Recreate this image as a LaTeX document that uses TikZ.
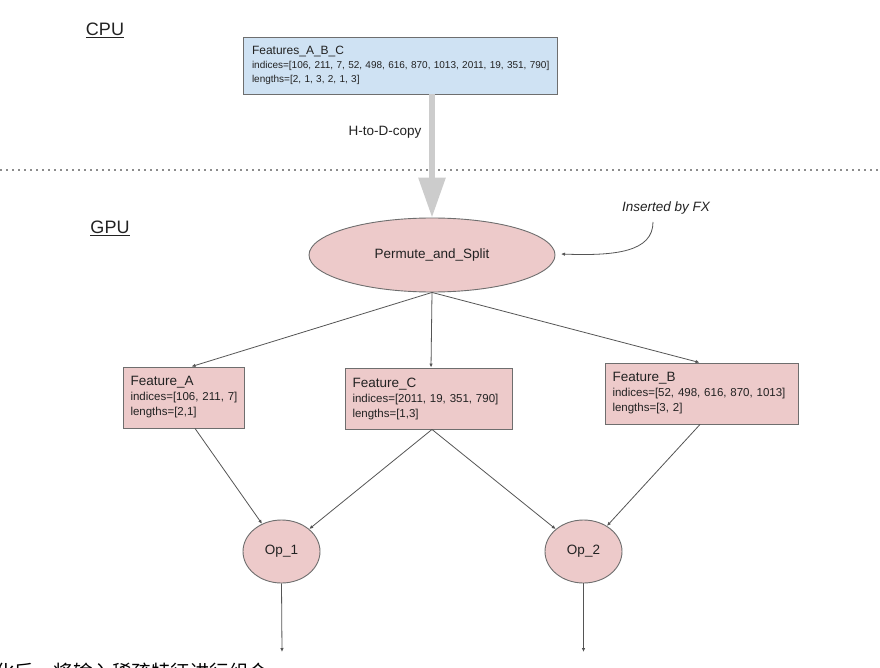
\documentclass[tikz,border=0pt]{standalone}
\usepackage{fontspec}
\setmainfont{Liberation Sans}
\newfontfamily\cjk{Noto Sans CJK SC}
\usetikzlibrary{shapes.geometric,arrows.meta}
\definecolor{cpublue}{HTML}{CFE2F3}
\definecolor{gpupink}{HTML}{EDCACA}
\definecolor{edgegray}{HTML}{6E6E6E}
\definecolor{linegray}{HTML}{555555}
\definecolor{txt}{HTML}{222222}
\tikzset{
  x=1pt, y=-1pt,
  every node/.style={text=txt},
  cpubox/.style={draw=edgegray, line width=0.9pt, fill=cpublue, rectangle, inner xsep=9pt, inner ysep=0pt, align=left, minimum height=57pt, font=\fontsize{10}{14}\selectfont},
  featbox/.style={draw=edgegray, line width=0.9pt, fill=gpupink, rectangle, inner xsep=7.5pt, inner ysep=0pt, align=left, minimum height=61pt, font=\fontsize{11.5}{15}\selectfont},
  opnode/.style={draw=edgegray, line width=0.9pt, fill=gpupink, ellipse, inner sep=0pt, font=\fontsize{13.5}{16}\selectfont},
  conn/.style={draw=linegray, line width=0.8pt, -{Latex[length=4pt,width=3.5pt]}},
  bigarrow/.style={draw=black!20, line width=6pt, -{Triangle[length=40pt,width=26pt]}},
  lbl/.style={font=\fontsize{13.5}{16}\selectfont},
  sectionlbl/.style={font=\fontsize{18}{20}\selectfont},
}
\newcommand{\boxtitle}[1]{{\fontsize{12}{14}\selectfont #1}}
\newcommand{\ftitle}[1]{{\fontsize{13.5}{15}\selectfont #1}}
\begin{document}
\begin{tikzpicture}
\useasboundingbox (0,0) rectangle (880,668);
\clip (0,0) rectangle (880,668);
\fill[white] (0,0) rectangle (880,668);

% section labels
\node[sectionlbl] (cpu) at (105,30) {\underline{CPU}};
\node[sectionlbl] (gpu) at (110,228) {\underline{GPU}};

% dotted separator
\coordinate (sepl) at (0,170);
\coordinate (sepr) at (880,170);
\draw[black!45, line width=2pt, dash pattern=on 2pt off 4pt] (sepl) -- (sepr);

% CPU box
\node[cpubox, text width=296pt] (abc) at (400,65.5)
  {\boxtitle{Features\_A\_B\_C}\\
   \mbox{indices=[106, 211, 7, 52, 498, 616, 870, 1013, 2011, 19, 351, 790]}\\
   lengths=[2, 1, 3, 2, 1, 3]};

% Permute and split
\node[opnode, minimum width=246pt, minimum height=74pt] (ps) at (432,255) {Permute\_and\_Split};

% big copy arrow
\draw[bigarrow] (abc.south -| ps.north) -- (ps.north);
\node[lbl] (h2d) at (385,132) {H-to-D-copy};

% inserted by FX
\node[lbl] (fx) at (666,208) {\itshape Inserted by FX};
\coordinate (fxs) at (653,222);
\coordinate (fxe) at (561,254);
\draw[conn] (fxs) .. controls (653,252) and (615,256) .. (fxe);

% feature boxes
\node[featbox, minimum width=121pt, text width=106pt] (fa) at (183.5,397.5)
  {\ftitle{Feature\_A}\\ \mbox{indices=[106, 211, 7]}\\ lengths=[2,1]};
\node[featbox, minimum width=167pt, text width=152pt] (fc) at (428.5,398.5)
  {\ftitle{Feature\_C}\\ \mbox{indices=[2011, 19, 351, 790]}\\ lengths=[1,3]};
\node[featbox, minimum width=193pt, text width=178pt] (fb) at (701.5,393.5)
  {\ftitle{Feature\_B}\\ \mbox{indices=[52, 498, 616, 870, 1013]}\\ lengths=[3, 2]};

\draw[conn] (ps.south) -- ([xshift=8pt]fa.north);
\draw[conn] (ps.south) -- ([xshift=2.5pt]fc.north);
\draw[conn] (ps.south) -- ([xshift=-2pt]fb.north);

% ops
\node[opnode, minimum width=77pt, minimum height=63pt] (op1) at (281.5,551.5) {Op\_1};
\node[opnode, minimum width=77pt, minimum height=63pt] (op2) at (583.5,551.5) {Op\_2};

\draw[conn] ([xshift=11.5pt]fa.south) -- (op1);
\draw[conn] ([xshift=3.5pt]fc.south) -- (op1);
\draw[conn] ([xshift=3.5pt]fc.south) -- (op2);
\draw[conn] ([xshift=-1.5pt]fb.south) -- (op2);

\coordinate (o1e) at (282,652);
\coordinate (o2e) at (583.5,652);
\draw[conn] (op1.south) -- (o1e);
\draw[conn] (op2.south) -- (o2e);

% cut-off caption
\node[anchor=base west, inner sep=0pt, text=black] (cap) at (-5,679) {\cjk\fontsize{19.5}{22}\selectfont 化后，将输入稀疏特征进行组合};
\end{tikzpicture}
\end{document}
